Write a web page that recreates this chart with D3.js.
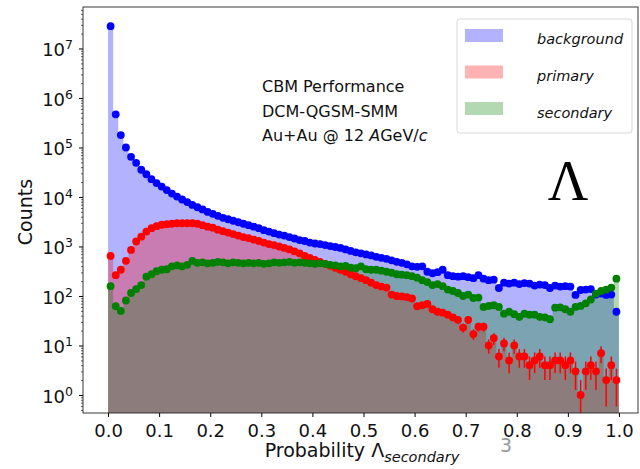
<!DOCTYPE html>
<html>
<head>
<meta charset="utf-8">
<script src="https://cdn.jsdelivr.net/npm/d3@7"></script>
<style>
body { margin:0; background:#fff; }
text { font-family:"DejaVu Sans", sans-serif; }
</style>
</head>
<body>
<div id="chart"></div>
<script>
// 100 bins of width 0.01 between 0 and 1
var binWidth = 0.01;

var background = [28200000, 468000, 178000, 100000, 64600, 49000, 35500, 28800, 22900, 19100,
    16200, 13800, 11700, 10200, 8900, 7900, 6900, 6200, 5600, 5000,
    4570, 4170, 3800, 3550, 3310, 3090, 2880, 2690, 2510, 2340,
    2140, 2000, 1860, 1740, 1660, 1550, 1450, 1350, 1290, 1200,
    1150, 1120, 1070, 1020, 977, 933, 871, 813, 759, 724,
    692, 661, 617, 589, 562, 525, 490, 468, 437, 398,
    389, 398, 309, 288, 302, 339, 263, 251, 245, 251,
    240, 229, 263, 224, 209, 214, 145, 186, 178, 186,
    174, 182, 178, 162, 170, 166, 145, 162, 155, 158,
    155, 105, 132, 135, 138, 107, 112, 105, 107, 48];

var primary = [646, 263, 339, 513, 851, 1260, 1580, 2000, 2340, 2570,
    2750, 2820, 2880, 2950, 2950, 2950, 2950, 2880, 2690, 2510,
    2400, 2190, 2040, 1910, 1780, 1660, 1550, 1480, 1380, 1290,
    1200, 1120, 1070, 1000, 933, 871, 794, 724, 646, 589,
    537, 490, 447, 407, 372, 339, 309, 275, 251, 229,
    209, 186, 166, 155, 148, 107, 100, 98, 95, 89,
    62, 65, 69, 54, 48, 46, 42, 37, 33, 23,
    33, 17, 24, 24, 10, 14, 6, 11, 5, 10,
    6, 6, 4, 5, 6, 4, 4, 5, 5, 4,
    5, 3, 1, 3, 4, 3, 7, 2, 4, 2];

var secondary = [158, 62, 50, 81, 115, 138, 166, 245, 275, 316,
    339, 347, 398, 417, 398, 427, 513, 468, 479, 457,
    468, 490, 479, 457, 479, 468, 457, 468, 457, 468,
    447, 457, 479, 468, 479, 490, 468, 479, 468, 457,
    447, 457, 447, 427, 417, 398, 407, 372, 363, 398,
    347, 339, 339, 324, 309, 295, 275, 269, 263, 251,
    234, 209, 191, 166, 174, 158, 135, 126, 115, 100,
    107, 91, 93, 60, 63, 65, 60, 44, 48, 43,
    38, 44, 42, 42, 38, 37, 34, 58, 59, 54,
    48, 60, 63, 71, 85, 112, 126, 135, 148, 224];

var seriesNames = ["background", "primary", "secondary"];
var seriesColors = ["blue", "red", "green"];
var xTicks = [0.0, 0.1, 0.2, 0.3, 0.4, 0.5, 0.6, 0.7, 0.8, 0.9, 1.0];
var yExponents = [0, 1, 2, 3, 4, 5, 6, 7];
var infoLines = ["CBM Performance", "DCM-QGSM-SMM"];

var width = 640, height = 469;
var plot = {left:83, top:7, right:638, bottom:413};

var svg = d3.select("#chart")
    .append("svg")
    .attr("width", width)
    .attr("height", height);

var x = d3.scaleLinear().domain([-0.05, 1.05]).range([82.5, 644.5]);
var y = d3.scaleLog().domain([Math.pow(10, -0.364), Math.pow(10, 7.838)]).range([plot.bottom, plot.top]);

svg.append("clipPath").attr("id", "plotclip")
    .append("rect")
    .attr("x", plot.left).attr("y", plot.top)
    .attr("width", plot.right - plot.left).attr("height", plot.bottom - plot.top);

var g = svg.append("g").attr("clip-path", "url(#plotclip)");

var allSeries = [background, primary, secondary];

// step filled histograms
function stepPoints(vals)
{
    var pts = vals.map(function(v, i) { return {e: i * binWidth, v: v}; });
    pts.push({e: vals.length * binWidth, v: vals[vals.length - 1]});
    return pts;
}

var area = d3.area()
    .curve(d3.curveStepAfter)
    .x(function(d) { return x(d.e); })
    .y0(plot.bottom)
    .y1(function(d) { return y(d.v); });

allSeries.forEach(function(vals, k) {
    g.append("path")
        .attr("d", area(stepPoints(vals)))
        .style("fill", seriesColors[k])
        .style("fill-opacity", 0.3);
});

// points with sqrt(N) error bars
allSeries.forEach(function(vals, k) {
    var pts = vals.map(function(v, i) { return {c: (i + 0.5) * binWidth, v: v}; });
    g.selectAll(".err" + k).data(pts).enter()
        .append("line")
        .attr("x1", function(d) { return x(d.c); })
        .attr("x2", function(d) { return x(d.c); })
        .attr("y1", function(d) {
            var lo = d.v - Math.sqrt(d.v);
            return lo > 0 ? y(lo) : plot.bottom;
        })
        .attr("y2", function(d) { return y(d.v + Math.sqrt(d.v)); })
        .style("stroke", seriesColors[k])
        .style("stroke-width", 1.5);
    g.selectAll(".pt" + k).data(pts).enter()
        .append("circle")
        .attr("cx", function(d) { return x(d.c); })
        .attr("cy", function(d) { return y(d.v); })
        .attr("r", 3.9)
        .style("fill", seriesColors[k]);
});

// frame
svg.append("rect")
    .attr("x", plot.left).attr("y", plot.top)
    .attr("width", plot.right - plot.left).attr("height", plot.bottom - plot.top)
    .style("fill", "none")
    .style("stroke", "#222")
    .style("stroke-width", 0.9);

// x axis
var xAxis = svg.append("g")
    .attr("transform", "translate(0," + plot.bottom + ")")
    .call(d3.axisBottom(x).tickValues(xTicks).tickFormat(d3.format(".1f")).tickSize(4).tickPadding(7));
xAxis.select(".domain").remove();
xAxis.selectAll("text").style("font-size", "18px").style("fill", "#111").style("font-family", "DejaVu Sans");

// y axis major + minor ticks
var majors = yExponents.map(function(e) { return Math.pow(10, e); });
var minors = [];
d3.range(-1, 8).forEach(function(e) {
    [2, 3, 4, 5, 6, 7, 8, 9].forEach(function(m) {
        var v = m * Math.pow(10, e);
        if (v > y.domain()[0] && v < y.domain()[1]) minors.push(v);
    });
});

var yAxis = svg.append("g")
    .attr("transform", "translate(" + plot.left + ",0)")
    .call(d3.axisLeft(y).tickValues(majors).tickFormat("").tickSize(4));
yAxis.select(".domain").remove();

var yMinor = svg.append("g")
    .attr("transform", "translate(" + plot.left + ",0)")
    .call(d3.axisLeft(y).tickValues(minors).tickFormat("").tickSize(2));
yMinor.select(".domain").remove();
yMinor.selectAll("line").style("stroke-width", 0.6);

var yLabels = svg.append("g").selectAll("text").data(yExponents).enter()
    .append("text")
    .attr("x", 73)
    .attr("y", function(e) { return y(Math.pow(10, e)) + 8; })
    .attr("text-anchor", "end")
    .style("font-size", "18px")
    .style("fill", "#111");
yLabels.append("tspan").text("10");
yLabels.append("tspan")
    .attr("dy", -7)
    .style("font-size", "12.5px")
    .text(function(e) { return e; });

// axis labels
svg.append("text")
    .attr("transform", "translate(32,212) rotate(-90)")
    .attr("text-anchor", "middle")
    .style("font-size", "19px")
    .style("fill", "#111")
    .text("Counts");

var xl = svg.append("text")
    .attr("x", 362).attr("y", 457)
    .attr("text-anchor", "middle")
    .style("font-size", "19px")
    .style("fill", "#111");
xl.append("tspan").text("Probability \u039B");
xl.append("tspan").attr("dy", 5).style("font-size", "14.5px").style("font-style", "italic").text("secondary");

svg.append("text")
    .attr("x", 506).attr("y", 452)
    .attr("text-anchor", "middle")
    .style("font-size", "19px")
    .style("fill", "#999")
    .text("3");

// info text
infoLines.forEach(function(t, i) {
    svg.append("text")
        .attr("x", 262).attr("y", 92 + i * 24.5)
        .style("font-size", "16px")
        .style("fill", "#111")
        .text(t);
});
var energy = svg.append("text")
    .attr("x", 262).attr("y", 92 + 2 * 24.5)
    .style("font-size", "16px")
    .style("fill", "#111");
energy.append("tspan").text("Au+Au @ 12 ");
energy.append("tspan").style("font-style", "italic").text("A");
energy.append("tspan").text("GeV/");
energy.append("tspan").style("font-style", "italic").text("c");

// big Lambda
svg.append("text")
    .attr("x", 568).attr("y", 200)
    .attr("text-anchor", "middle")
    .style("font-family", "Liberation Serif, serif")
    .style("font-size", "56px")
    .style("fill", "#000")
    .text("\u039B");

// legend
var legend = svg.append("g");
legend.append("rect")
    .attr("x", 457).attr("y", 19)
    .attr("width", 175).attr("height", 114)
    .attr("rx", 3)
    .style("fill", "#fff").style("fill-opacity", 0.8)
    .style("stroke", "#d8d8d8");
seriesNames.forEach(function(name, k) {
    legend.append("rect")
        .attr("x", 465).attr("y", 29 + k * 36.5)
        .attr("width", 38).attr("height", 13)
        .style("fill", seriesColors[k])
        .style("fill-opacity", 0.3);
    legend.append("text")
        .attr("x", 537).attr("y", 44 + k * 37)
        .style("font-size", "14.5px")
        .style("font-style", "italic")
        .style("fill", "#111")
        .text(name);
});
</script>
</body>
</html>
